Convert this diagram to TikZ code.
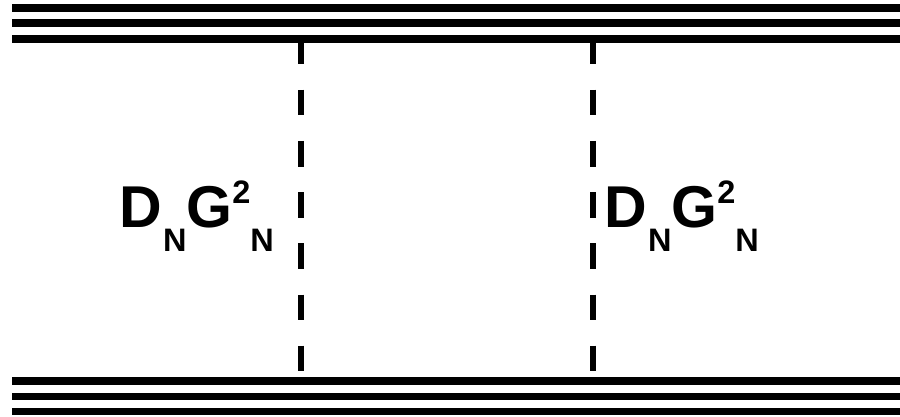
\documentclass[tikz,border=0pt]{standalone}
\usepackage{fontspec}
\setmainfont{Liberation Sans}
\begin{document}
\begin{tikzpicture}[x=1pt,y=-1pt,
  rail/.style={line width=8pt},
  railb/.style={line width=7.5pt},
  divider/.style={line width=6.5pt, dash pattern=on 25.6pt off 25.6pt},
  lab/.style={anchor=base west, inner sep=0pt, font=\bfseries}]
\useasboundingbox (0,0) rectangle (900,416);
\newcommand{\bigf}{\fontsize{59}{60}\selectfont}
\newcommand{\smallf}{\fontsize{32.5}{33}\selectfont}
\newcommand{\labtext}{\bigf D\kern1.2pt\raisebox{-24.4pt}{\smallf N}G\raisebox{24pt}{\smallf 2}\raisebox{-24.4pt}{\smallf N}}
% dashed dividers
\coordinate (d1t) at (301,38.5);
\coordinate (d1b) at (301,381.2);
\coordinate (d2t) at (593,38.5);
\coordinate (d2b) at (593,381.2);
\draw[divider] (d1t) -- (d1b);
\draw[divider] (d2t) -- (d2b);
% top rails
\coordinate (t1l) at (12,8.2);   \coordinate (t1r) at (900,8.2);
\coordinate (t2l) at (12,23.3);  \coordinate (t2r) at (900,23.3);
\coordinate (t3l) at (12,38.5);  \coordinate (t3r) at (900,38.5);
\draw[rail] (t1l) -- (t1r);
\draw[rail] (t2l) -- (t2r);
\draw[rail] (t3l) -- (t3r);
% bottom rails
\coordinate (b1l) at (12,381.2); \coordinate (b1r) at (900,381.2);
\coordinate (b2l) at (12,396.3); \coordinate (b2r) at (900,396.3);
\coordinate (b3l) at (12,411.3); \coordinate (b3r) at (900,411.3);
\draw[railb] (b1l) -- (b1r);
\draw[railb] (b2l) -- (b2r);
\draw[railb] (b3l) -- (b3r);
% labels
\node[lab] (lab1) at (119,227.3) {\labtext};
\node[lab] (lab2) at (604,227.3) {\labtext};
\end{tikzpicture}
\end{document}
